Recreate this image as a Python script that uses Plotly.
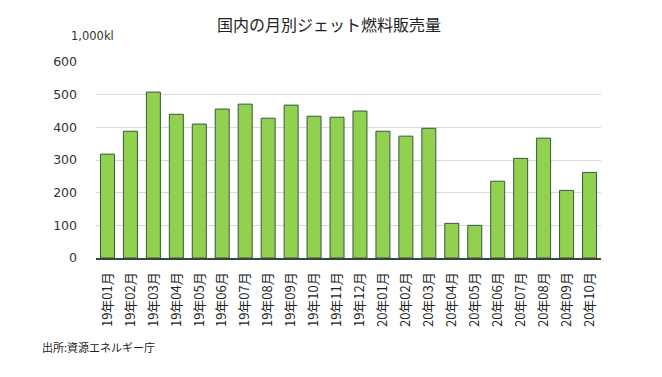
import plotly.graph_objects as go

months = ["19年01月", "19年02月", "19年03月", "19年04月", "19年05月", "19年06月",
          "19年07月", "19年08月", "19年09月", "19年10月", "19年11月", "19年12月",
          "20年01月", "20年02月", "20年03月", "20年04月", "20年05月", "20年06月",
          "20年07月", "20年08月", "20年09月", "20年10月"]
sales = [318, 388, 508, 440, 410, 456, 471, 428, 468, 434, 431, 450,
         388, 373, 397, 106, 100, 235, 305, 367, 207, 262]
y_ticks = [0, 100, 200, 300, 400, 500, 600]

FONT = "Noto Sans CJK JP, Noto Sans, sans-serif"
NUMFONT = "DejaVu Sans, Noto Sans CJK JP, sans-serif"

# page body has an 8px margin; compensate so the plot lands where the reference has it
W, H = 654, 369
L, T, R, B = 88, 54, 61, 119
pw = W - L - R
ph = H - T - B

def px_x(x):  # absolute page x -> paper x
    return (x - 8 - L) / pw

def px_y(y):  # absolute page y -> paper y
    return 1 - (y - 8 - T) / ph

fig = go.Figure()
fig.add_trace(go.Bar(
    x=months, y=sales,
    marker=dict(color="#92d050", line=dict(color="#365a40", width=1)),
    hoverinfo="x+y",
))

fig.update_layout(
    width=W, height=H,
    margin=dict(l=L, r=R, t=T, b=B, autoexpand=False),
    paper_bgcolor="white", plot_bgcolor="white",
    bargap=0.39,
    showlegend=False,
    font=dict(family=FONT, color="#222222", size=13),
    title=dict(text="国内の月別ジェット燃料販売量", x=px_x(329), xanchor="center",
               xref="paper", y=1 - (25 - 8) / H, yanchor="middle",
               font=dict(family=FONT, size=16, color="#222222")),
    xaxis=dict(
        tickangle=-90, showgrid=False, showline=True, linecolor="#404040",
        linewidth=2, ticks="", tickfont=dict(size=13, family=FONT, color="#222222"),
        ticklabelstandoff=7,
    ),
    yaxis=dict(
        range=[0, 600], tickvals=y_ticks, showgrid=True, gridcolor="#d9d9d9",
        gridwidth=1, zeroline=False, showline=False, ticks="",
        tickfont=dict(size=12.5, family=NUMFONT, color="#333333"), ticklabelstandoff=18,
    ),
    annotations=[
        dict(text="1,000kl", x=px_x(92), y=px_y(36),
             xref="paper", yref="paper", showarrow=False, xanchor="center",
             yanchor="middle", font=dict(size=11.5, family=NUMFONT, color="#333333")),
        dict(text="出所:資源エネルギー庁", x=px_x(40), y=px_y(347),
             xref="paper", yref="paper", showarrow=False, xanchor="left",
             yanchor="middle", font=dict(size=11, family=FONT, color="#222222")),
    ],
)

fig.write_html("out.html")
